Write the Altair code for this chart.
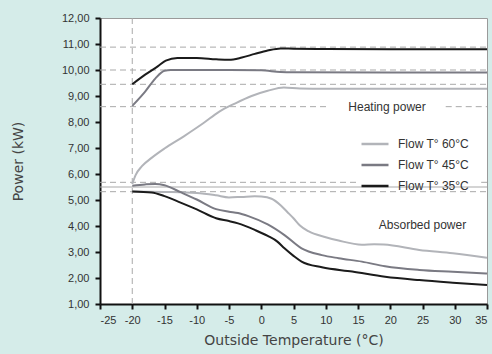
import altair as alt
import pandas as pd

# Heating power (kW) against outside temperature (°C), per flow temperature
heat_60_t = [-20, -19.5, -18.5, -17, -15, -12, -9, -6.5, -4, -1.5, 1, 3.5, 6, 10, 20, 35]
heat_60_kw = [5.62, 5.95, 6.30, 6.62, 6.98, 7.45, 7.95, 8.40, 8.72, 9.00, 9.20, 9.33, 9.29, 9.28, 9.28, 9.28]

heat_45_t = [-20, -18, -16.4, -15, -14, -10, -5, 0, 3, 5, 20, 35]
heat_45_kw = [8.62, 9.17, 9.68, 9.97, 10.0, 10.0, 10.0, 9.99, 9.92, 9.91, 9.90, 9.90]

heat_35_t = [-20, -18, -16, -14.8, -13, -10, -7, -5, -3, -1, 1, 3, 5, 10, 20, 35]
heat_35_kw = [9.45, 9.82, 10.15, 10.36, 10.46, 10.46, 10.41, 10.39, 10.48, 10.62, 10.75, 10.83, 10.82, 10.81, 10.80, 10.80]

# Absorbed power (kW)
abs_60_t = [-20, -15, -10, -7, -5, -3, -1, 0, 1.6, 3, 4, 5, 6, 7.3, 10, 12, 15.6, 17.5, 19, 24.5, 29.7, 35]
abs_60_kw = [5.33, 5.31, 5.27, 5.18, 5.10, 5.12, 5.14, 5.13, 5.05, 4.80, 4.55, 4.30, 4.02, 3.80, 3.57, 3.44, 3.28, 3.30, 3.29, 3.08, 2.95, 2.78]

abs_45_t = [-20, -18, -16.4, -15, -12.5, -10, -7, -5, -3.6, -2, 1, 3.6, 6.25, 9.4, 12, 15.6, 19.2, 24.5, 29.7, 35]
abs_45_kw = [5.55, 5.60, 5.62, 5.57, 5.30, 5.02, 4.65, 4.55, 4.50, 4.38, 4.06, 3.65, 3.14, 2.88, 2.76, 2.63, 2.45, 2.31, 2.24, 2.17]

abs_35_t = [-20, -17, -15, -12.5, -10, -7, -5, -3.6, -1, 1, 2.5, 3.6, 5, 6.25, 9.4, 14.1, 19.2, 24.5, 29.7, 35]
abs_35_kw = [5.33, 5.29, 5.15, 4.90, 4.64, 4.30, 4.19, 4.10, 3.85, 3.62, 3.40, 3.14, 2.85, 2.63, 2.41, 2.25, 2.05, 1.92, 1.82, 1.73]

flow_labels = ["Flow T° 60°C", "Flow T° 45°C", "Flow T° 35°C"]
flow_colors = ["#b2b4b9", "#7a7a83", "#1b1b1b"]

# Reference lines (kW); dashed ones are split where the annotations sit
dash_kw = [10.88, 10.00, 9.45, 8.59, 8.59, 5.68, 5.68, 5.32]
dash_from = [-25, -25, -25, -25, 28.6, -25, 34.1, -25]
dash_to = [35, 35, 35, 10.6, 35, 15.2, 35, 35]
solid_kw = [5.50]
marker_t = [-20]

note_text = ["Heating power", "Absorbed power"]
note_t = [19.5, 25.0]
note_kw = [8.59, 4.04]

x_ticks = list(range(-25, 40, 5))
y_ticks = list(range(1, 13))

series = [
    (heat_60_t, heat_60_kw, flow_labels[0], "heating"),
    (heat_45_t, heat_45_kw, flow_labels[1], "heating"),
    (heat_35_t, heat_35_kw, flow_labels[2], "heating"),
    (abs_60_t, abs_60_kw, flow_labels[0], "absorbed"),
    (abs_45_t, abs_45_kw, flow_labels[1], "absorbed"),
    (abs_35_t, abs_35_kw, flow_labels[2], "absorbed"),
]
rows = []
for ts, kws, flow, kind in series:
    for t, kw in zip(ts, kws):
        rows.append({"t": t, "kw": kw, "flow": flow, "kind": kind})
curves = pd.DataFrame(rows)

dashed = pd.DataFrame({"kw": dash_kw, "t": dash_from, "t2": dash_to})
solid = pd.DataFrame({"kw": solid_kw, "t": [-25], "t2": [35]})
marker = pd.DataFrame({"t": marker_t})
notes = pd.DataFrame({"t": note_t, "kw": note_kw, "text": note_text})

x_scale = alt.Scale(domain=[-25, 35], nice=False, zero=False)
y_scale = alt.Scale(domain=[1, 12], nice=False, zero=False)

title_font = "DejaVu Sans"

x_axis = alt.Axis(
    values=x_ticks, title="Outside Temperature (°C)", grid=False,
    labelExpr="datum.value < 0 ? '-' + format(-datum.value, 'd') : format(datum.value, 'd')",
    domainColor="#111", domainWidth=2, tickColor="#111", tickWidth=2, tickSize=5,
    labelFont="Liberation Sans", labelFontSize=11, labelColor="#333", labelPadding=5,
    titleFont=title_font, titleFontSize=14, titleFontWeight="normal", titleColor="#444",
    titlePadding=8,
)
y_axis = alt.Axis(
    values=y_ticks, title="Power (kW)", grid=False,
    labelExpr="replace(format(datum.value, '.2f'), '.', ',')",
    domainColor="#111", domainWidth=2, tickColor="#111", tickWidth=2, tickSize=5,
    labelFont="Liberation Sans", labelFontSize=11, labelColor="#333", labelPadding=6,
    titleFont=title_font, titleFontSize=14, titleFontWeight="normal", titleColor="#444",
    titlePadding=36,
)

X = alt.X("t:Q", scale=x_scale, axis=x_axis, title="Outside Temperature (°C)")
Y = alt.Y("kw:Q", scale=y_scale, axis=y_axis, title="Power (kW)")

dash_layer = alt.Chart(dashed).mark_rule(
    color="#a9a9a9", strokeWidth=1, strokeDash=[6, 4]
).encode(x=X, x2="t2:Q", y=Y)

solid_layer = alt.Chart(solid).mark_rule(
    color="#a9a9a9", strokeWidth=1
).encode(x=X, x2="t2:Q", y=Y)

marker_layer = alt.Chart(marker).mark_rule(
    color="#a9a9a9", strokeWidth=1, strokeDash=[6, 4]
).encode(x=X)

line_layer = alt.Chart(curves).mark_line(
    strokeWidth=2, interpolate="monotone"
).encode(
    x=X,
    y=Y,
    color=alt.Color(
        "flow:N",
        scale=alt.Scale(domain=flow_labels, range=flow_colors),
        sort=flow_labels,
        legend=alt.Legend(
            title=None, orient="none", legendX=258, legendY=109,
            symbolType="stroke", symbolStrokeWidth=2.5, symbolSize=729,
            labelFont="Liberation Sans", labelFontSize=12, labelColor="#333",
            labelOffset=8, rowPadding=-7, padding=2,
        ),
    ),
    detail="kind:N",
)

note_layer = alt.Chart(notes).mark_text(
    font="Liberation Sans", fontSize=12, color="#333", baseline="middle", align="center"
).encode(x=X, y=Y, text="text:N")

chart = alt.layer(
    dash_layer, solid_layer, marker_layer, line_layer, note_layer
).properties(
    width=387, height=286,
    autosize=alt.AutoSizeParams(type="none"),
    padding={"left": 100, "top": 18, "right": 5, "bottom": 50},
    background="#d5ece9",
).configure_view(
    fill="white", stroke="#9a9a9a", strokeWidth=1
)

chart.save("out.html", embed_options={"renderer": "svg", "actions": False})
